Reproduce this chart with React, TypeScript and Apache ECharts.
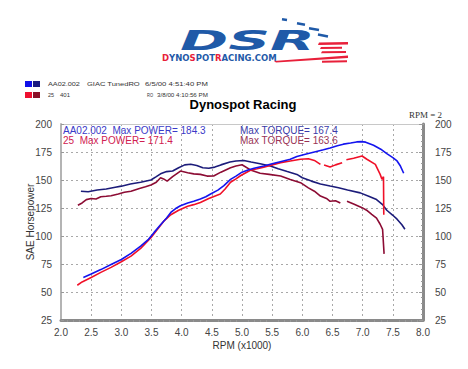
import React, { useEffect, useRef } from "react";
import * as echarts from "echarts";

// ---- data ----
const rpmBlueHP = [2.37, 2.5, 2.66, 2.83, 3.0, 3.16, 3.32, 3.45, 3.54, 3.65, 3.75, 3.82, 3.9, 3.98, 4.1, 4.2, 4.31, 4.4, 4.48, 4.6, 4.7, 4.81, 4.9, 5.0, 5.1, 5.2, 5.36, 5.5, 5.65, 5.8, 5.91, 6.05, 6.2, 6.35, 6.46, 6.58, 6.68, 6.8, 6.9, 6.98, 7.05, 7.18, 7.3, 7.4, 7.5, 7.57, 7.62, 7.68];
const hpBlue = [63, 66, 70, 74.5, 79, 84.5, 91, 97, 103, 110, 116, 121, 124.5, 127, 129.5, 131, 133, 135, 137.5, 141, 145, 150.5, 153.5, 157, 159, 160.5, 162.5, 164.5, 166.5, 168.5, 171, 173, 175, 177, 178.5, 180.5, 182, 183, 184, 184.3, 183.8, 181, 177.5, 173.5, 170, 167, 163, 156];

const rpmRedHP = [2.27, 2.35, 2.5, 2.66, 2.83, 3.0, 3.16, 3.32, 3.49, 3.6, 3.7, 3.82, 3.95, 4.1, 4.2, 4.31, 4.45, 4.64, 4.72, 4.81, 4.9, 4.98, 5.14, 5.25, 5.36, 5.5, 5.64, 5.8, 5.97, 6.1, 6.2, 6.3, 6.33, 6.36, 6.46, 6.55, 6.66, 6.7, 6.73, 6.85, 6.99, 7.07, 7.21, 7.29, 7.32, 7.345, 7.35];
const hpRed = [56, 59, 63, 67.5, 72, 77, 82, 89, 98.5, 106, 113, 119, 123, 126.5, 128, 130, 133.5, 137.5, 142, 148, 151, 154, 158.7, 160, 161.5, 163.5, 165.5, 167, 168.5, 169, 167.5, 164, null, 163.5, 161.6, 163.5, 165.5, null, 168, 169.5, 171.4, 168.5, 164, 155, 150.6, 153, 119];

const rpmNavyTq = [2.33, 2.45, 2.6, 2.75, 2.9, 3.0, 3.15, 3.32, 3.49, 3.58, 3.65, 3.75, 3.85, 3.95, 4.05, 4.15, 4.25, 4.35, 4.45, 4.55, 4.65, 4.8, 4.9, 5.03, 5.15, 5.3, 5.47, 5.6, 5.75, 5.91, 6.0, 6.15, 6.3, 6.46, 6.6, 6.75, 6.96, 7.1, 7.23, 7.33, 7.4, 7.5, 7.57, 7.65, 7.7];
const tqNavy = [140, 139.5, 141, 142, 143.5, 144.5, 146.5, 148, 150, 153, 155.5, 157.5, 158, 161, 163.5, 164, 163, 161, 160.5, 161.5, 163.5, 166, 167, 167.4, 166, 164.5, 162.5, 160, 157.5, 155, 152, 149, 146.5, 144.6, 143, 141, 138.5, 135.5, 132.5, 128, 123, 118.5, 115, 110, 106];

const rpmMaroonTq = [2.28, 2.35, 2.42, 2.5, 2.58, 2.66, 2.75, 2.83, 2.95, 3.05, 3.16, 3.3, 3.4, 3.49, 3.58, 3.65, 3.7, 3.76, 3.85, 3.98, 4.1, 4.2, 4.31, 4.42, 4.53, 4.65, 4.81, 4.9, 5.0, 5.14, 5.3, 5.45, 5.64, 5.8, 5.97, 6.1, 6.2, 6.3, 6.4, 6.46, 6.55, 6.63, 6.68, 6.74, 6.85, 6.99, 7.08, 7.15, 7.23, 7.29, 7.33, 7.355];
const tqMaroon = [127.5, 129.5, 132.5, 133.5, 133, 135, 135.5, 136, 137.5, 139, 140, 142.5, 144, 145.5, 148, 152, 151, 149, 153, 158, 156.5, 155.5, 155, 153.5, 153.6, 157, 161, 162.5, 163.6, 159, 156, 155, 153.5, 150.5, 147.6, 143, 140, 135.7, 133.5, 131, 131.5, 129.5, null, 131, 128.5, 125.3, 122.5, 119.4, 116, 110.5, 106, 84];

const xTicks = { min: 2, max: 8, interval: 0.5 };
const yTicks = { min: 25, max: 200, interval: 25 };

const legendColors = [["#1010e8", "#1a1a80"], ["#ee1030", "#8c1028"]];
const legendTexts = [
  ["AA02.002", "GIAC TunedRO", "6/5/00 4:51:40 PM"],
  ["25", "401", "RO", "3/8/00 4:10:56 PM"],
];
const maxPower = ["AA02.002  Max POWER= 184.3", "25  Max POWER= 171.4"];
const maxTorque = ["Max TORQUE= 167.4", "Max TORQUE= 163.6"];

const pairs = (xs: number[], ys: (number | null)[]) =>
  xs.map((x, i) => [x, ys[i] === null ? "-" : ys[i]]);

const FONT = '"Liberation Sans", Arial, sans-serif';
const LOGO_BLUE = "#1f5aa8";
const LOGO_RED = "#e8203a";

// horizontal spans for legend text pieces (layout)
const legendSpans = [
  [[48, 80], [87, 140], [145, 208]],
  [[48, 54], [60, 70], [147, 153], [157, 208]],
];

let measureCtx: CanvasRenderingContext2D | null = null;
function measure(text: string, font: string) {
  if (!measureCtx) measureCtx = document.createElement("canvas").getContext("2d");
  if (!measureCtx) return text.length * 3;
  measureCtx.font = font;
  return measureCtx.measureText(text).width || 1;
}

export default function App() {
  const ref = useRef<HTMLDivElement>(null);
  useEffect(() => {
    if (!ref.current) return;
    const chart = echarts.init(ref.current, undefined, { renderer: "svg" });
    const lbl = { color: "#444", fontSize: 10, fontFamily: FONT };
    const grid = { left: 61, right: 45, top: 124, bottom: 49 };

    const graphics: any[] = [];
    // logo
    graphics.push({
      type: "text", x: 180, y: 54.5, scaleX: 2.15,
      style: { text: "DSR", font: 'italic bold 27px "DejaVu Sans"', fill: LOGO_BLUE, textVerticalAlign: "bottom", textAlign: "left" },
    });
    graphics.push({
      type: "text", x: 162, y: 57.5,
      style: {
        text: "{r|D}{b|YNO}{r|S}{b|POT}{r|R}{b|ACING.COM}",
        textVerticalAlign: "middle",
        rich: {
          r: { fill: LOGO_RED, font: 'bold 8.5px "DejaVu Sans"' },
          b: { fill: LOGO_BLUE, font: 'bold 8.5px "DejaVu Sans"' },
        },
      },
    });
    const redStripes = [
      [[319, 42.5], [348, 42], [348, 44.5], [318, 45]],
      [[321, 47], [342, 46.8], [342, 48.8], [320, 49]],
      [[322, 51.2], [346, 51], [346, 53], [321, 53.2]],
      [[274, 61], [348, 55.5], [348, 58], [276, 62.5]],
      [[322, 60.8], [347, 60.3], [347, 62.3], [322, 62.8]],
    ];
    redStripes.forEach((pts) =>
      graphics.push({ type: "polygon", shape: { points: pts }, style: { fill: LOGO_RED } })
    );
    const blueDashes = [
      [282, 19.3, 287, 20],
      [297, 23.3, 305, 24.7],
      [309, 28.3, 319, 30],
      [318, 34.5, 328, 36.5],
    ];
    blueDashes.forEach(([x1, y1, x2, y2]) =>
      graphics.push({ type: "line", shape: { x1, y1, x2, y2 }, style: { stroke: LOGO_BLUE, lineWidth: 2.5 } })
    );
    // legend rows
    const legFont = `6px ${FONT}`;
    legendColors.forEach((cols, i) => {
      const y = 81 + i * 11;
      cols.forEach((c, j) =>
        graphics.push({ type: "rect", shape: { x: 25 + j * 8, y, width: 7, height: 6 }, style: { fill: c } })
      );
      legendTexts[i].forEach((t, k) => {
        const [x0, x1] = legendSpans[i][k];
        const w = measure(t, legFont);
        graphics.push({
          type: "text", x: x0, y: y + 3, scaleX: (x1 - x0) / w,
          style: { text: t, font: legFont, fill: "#333", textVerticalAlign: "middle" },
        });
      });
    });
    // title
    graphics.push({
      type: "text", x: 243, y: 104,
      style: { text: "Dynospot Racing", font: `bold 13px ${FONT}`, fill: "#000", textAlign: "center", textVerticalAlign: "middle" },
    });
    graphics.push({
      type: "text", x: 442, y: 115,
      style: { text: "RPM = 2", font: '9px "Liberation Serif", serif', fill: "#333", textAlign: "right", textVerticalAlign: "middle" },
    });
    // annotations
    const powColors = ["#3a3ac8", "#d02050"];
    const tqColors = ["#3a3aa8", "#993355"];
    maxPower.forEach((t, i) =>
      graphics.push({
        type: "text", x: 63, y: 130 + i * 10, z: 10,
        style: { text: t, font: `10px ${FONT}`, fill: powColors[i], textVerticalAlign: "middle" },
      })
    );
    maxTorque.forEach((t, i) =>
      graphics.push({
        type: "text", x: 240, y: 130 + i * 10, z: 10,
        style: { text: t, font: `10px ${FONT}`, fill: tqColors[i], textVerticalAlign: "middle" },
      })
    );

    const split = { show: true, lineStyle: { color: "#a8a8a8", type: [2, 3] as any, width: 1 } };
    const line = (data: any[], color: string) => ({
      type: "line", data, showSymbol: false, symbol: "none", connectNulls: false,
      lineStyle: { color, width: 1.6 }, itemStyle: { color }, z: 3,
    });

    chart.setOption({
      animation: false,
      backgroundColor: "#fff",
      grid,
      xAxis: [
        {
          type: "value", ...xTicks, position: "bottom",
          axisLine: { show: true, lineStyle: { color: "#8a8a8a", width: 3 } },
          axisTick: { show: false },
          minorTick: { show: true, splitNumber: 5, length: 2, lineStyle: { color: "#999" } },
          axisLabel: { ...lbl, margin: 7, formatter: (v: number) => v.toFixed(1) },
          splitLine: split,
          name: "RPM (x1000)", nameLocation: "middle", nameGap: 20, nameMoveOverlap: false,
          nameTextStyle: { ...lbl, color: "#333" },
        },
        {
          type: "value", ...xTicks, position: "top",
          axisLine: { show: true, lineStyle: { color: "#c8c8c8", width: 1 } },
          axisTick: { show: false }, axisLabel: { show: false }, splitLine: { show: false },
        },
      ],
      yAxis: [
        {
          type: "value", ...yTicks, position: "left",
          axisLine: { show: true, lineStyle: { color: "#b4b4b4", width: 2 } },
          axisTick: { show: true, inside: true, length: 3, lineStyle: { color: "#999" } },
          axisLabel: { ...lbl, margin: 9 },
          splitLine: split,
          name: "SAE Horsepower", nameLocation: "middle", nameGap: 26, nameMoveOverlap: false,
          nameTextStyle: { ...lbl, color: "#333" },
        },
        {
          type: "value", ...yTicks, position: "right",
          axisLine: { show: true, lineStyle: { color: "#8a8a8a", width: 3 } },
          axisTick: { show: true, inside: true, length: 4, lineStyle: { color: "#999" } },
          minorTick: { show: true, splitNumber: 5, length: 2, lineStyle: { color: "#999" } },
          axisLabel: { ...lbl, margin: 12 },
          splitLine: { show: false },
        },
      ],
      graphic: graphics,
      series: [
        line(pairs(rpmNavyTq, tqNavy), "#1c1c7a"),
        line(pairs(rpmMaroonTq, tqMaroon), "#8c0c34"),
        line(pairs(rpmRedHP, hpRed), "#f01028"),
        line(pairs(rpmBlueHP, hpBlue), "#1414ee"),
      ],
    });
    return () => chart.dispose();
  }, []);
  return (
    <div
      ref={ref}
      style={{ position: "fixed", left: 0, top: 0, width: 468, height: 369, background: "#fff" }}
    />
  );
}
